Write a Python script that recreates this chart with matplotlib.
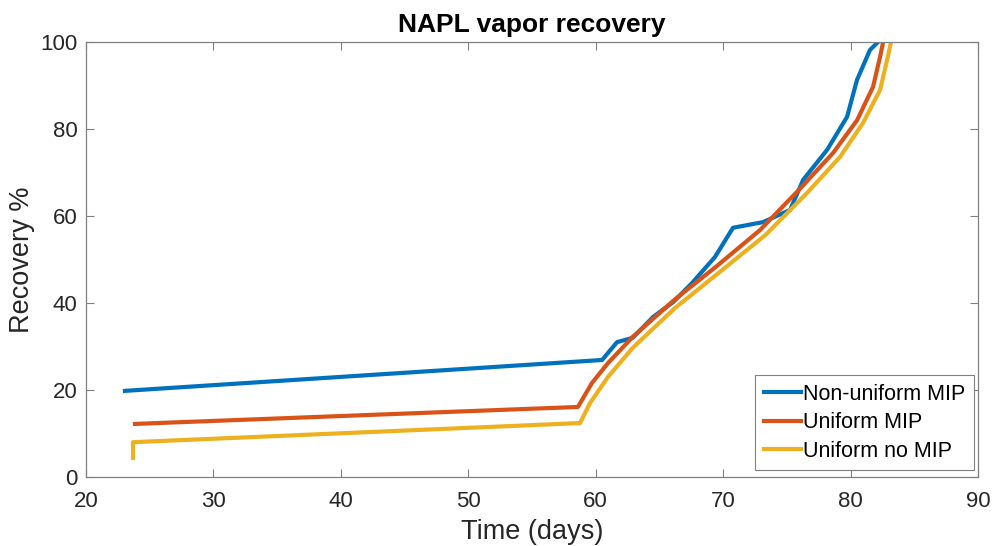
import numpy as np
import matplotlib.pyplot as plt

plt.rcParams['font.family'] = ['Liberation Sans', 'DejaVu Sans']

# recovery curves (time in days, recovery in %)
t_nonuni = [23.06, 60.5, 61.67, 62.9, 64.5, 66.07, 67.56, 69.36, 70.77, 73.13,
            75.25, 76.27, 78.15, 79.72, 80.5, 81.52, 82.15]
r_nonuni = [19.8, 26.9, 31.0, 32.0, 36.8, 40.2, 44.6, 50.6, 57.3, 58.6,
            61.4, 68.3, 75.2, 82.8, 91.3, 98.2, 100.0]

t_uni = [23.85, 58.6, 59.7, 60.96, 62.9, 66.2, 69.5, 72.9, 76.0,
         78.62, 80.5, 81.76, 82.31, 82.55]
r_uni = [12.2, 16.1, 21.6, 26.2, 32.2, 40.8, 48.5, 56.8, 66.2,
         74.5, 82.0, 89.7, 96.6, 100.0]

t_nomip = [23.69, 23.69, 58.77, 59.55, 60.96, 62.9, 66.2, 69.8, 73.3,
           76.58, 79.17, 80.97, 82.31, 82.86, 83.17]
r_nomip = [4.4, 8.0, 12.4, 17.0, 23.0, 29.7, 38.8, 47.3, 55.6,
           65.3, 73.6, 81.4, 89.0, 95.9, 100.0]

labels = ['Non-uniform MIP', 'Uniform MIP', 'Uniform no MIP']
colors = ['#0072BD', '#D95319', '#EDB120']

fig = plt.figure(figsize=(9.95, 5.46), dpi=100)
ax = fig.add_axes([0.0864, 0.1264, 0.8966, 0.7966])

for t, r, lab, c in zip([t_nonuni, t_uni, t_nomip], [r_nonuni, r_uni, r_nomip], labels, colors):
    ax.plot(t, r, color=c, lw=3, label=lab)

ax.set_xlim(20, 90)
ax.set_ylim(0, 100)
ax.set_xticks(np.arange(20, 91, 10))
ax.set_yticks(np.arange(0, 101, 20))

for s in ax.spines.values():
    s.set_color('#808080')
    s.set_linewidth(0.9)
ax.tick_params(direction='in', top=True, right=True, length=6, width=0.8,
               color='#808080', labelsize=16, labelcolor='#262626')
ax.tick_params(axis='x', pad=10)
ax.tick_params(axis='y', pad=6)

ax.set_xlabel('Time (days)', fontsize=19.5, color='#262626', labelpad=5)
ax.set_ylabel('Recovery %', fontsize=19.5, color='#262626', labelpad=4)
ax.set_title('NAPL vapor recovery', fontsize=19, fontweight='bold', pad=7)

leg = ax.legend(loc='lower right', bbox_to_anchor=(0.995, 0.015), fontsize=15.5,
                handlelength=1.7, handletextpad=0.1, borderpad=0.4,
                labelspacing=0.35, borderaxespad=0, fancybox=False,
                framealpha=1)
leg.get_frame().set_edgecolor('#808080')
leg.get_frame().set_linewidth(0.8)

fig.savefig('out.png', dpi=100)
